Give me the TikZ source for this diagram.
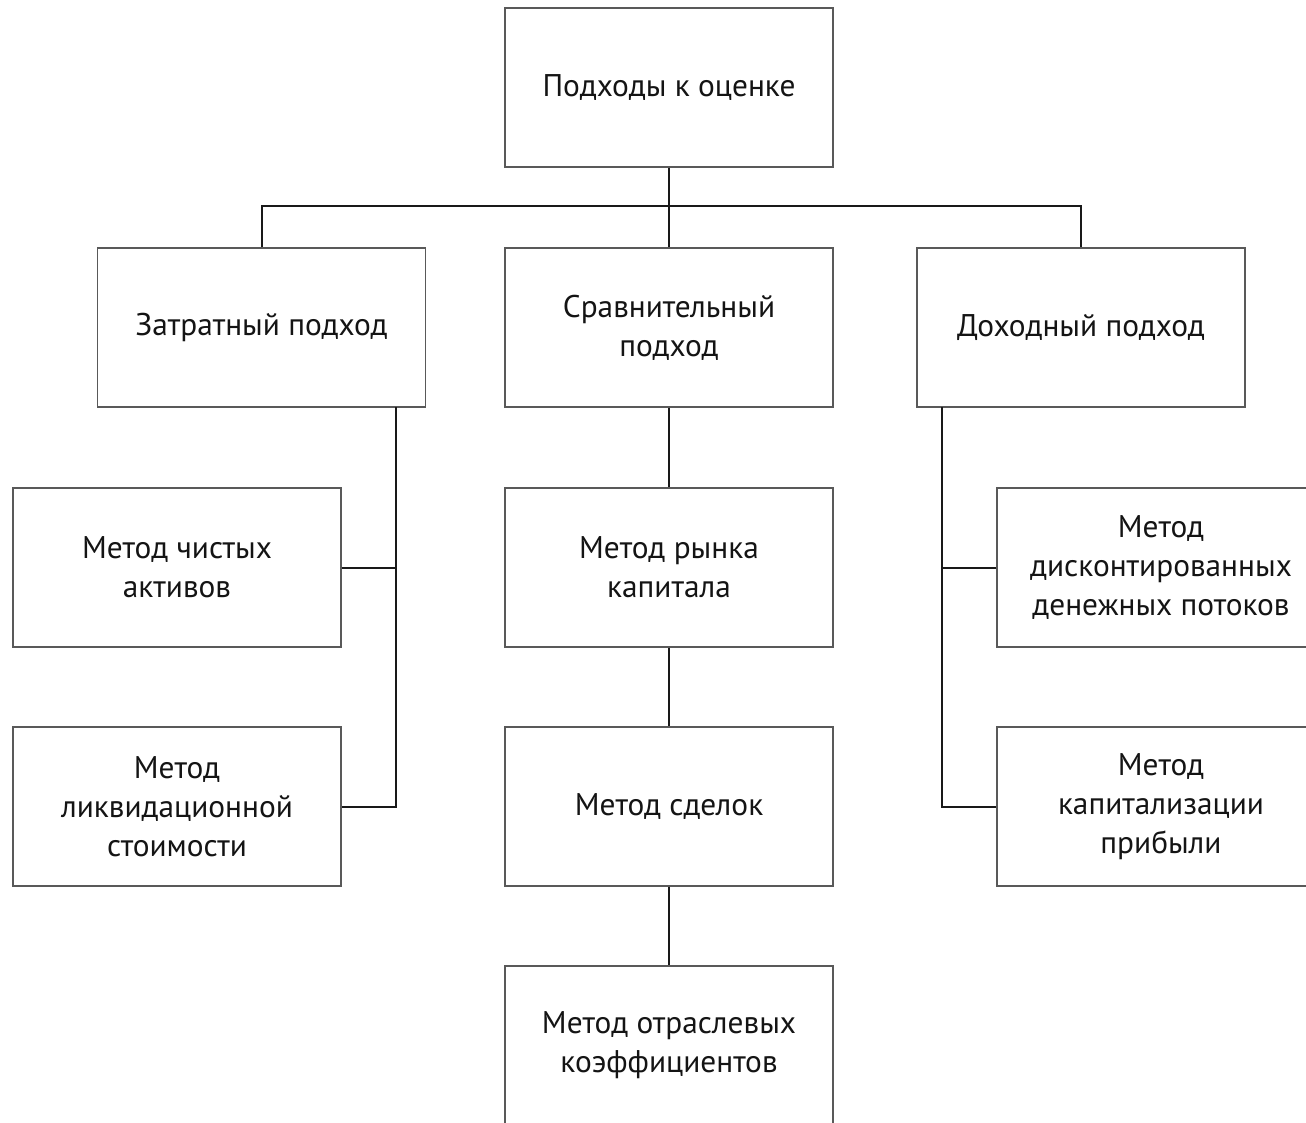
\documentclass[tikz,border=0pt]{standalone}
\usepackage{fontspec}
\setmainfont{PT Sans}
\begin{document}
\begin{tikzpicture}[x=0.75pt,y=-0.75pt,
  box/.style={draw=black!65, line width=1.1pt, rectangle, minimum width=246pt, minimum height=119.25pt,
    inner sep=0pt, align=center, text=black!92, font=\fontsize{23.5}{29.25}\selectfont},
  conn/.style={draw=black!90, line width=1.5pt}]
\useasboundingbox (0,0) rectangle (1306,1123);
\clip (0,0) rectangle (1306,1123);
\fill[white] (0,0) rectangle (1306,1123);
\node[box] (top)   at (669,87.5)   {Подходы к оценке};
\node[box] (zat)   at (261.5,327.5) {Затратный подход};
\node[box] (srav)  at (669,327.5)  {Сравнительный\\подход};
\node[box] (doh)   at (1081,327.5) {Доходный подход};
\node[box] (chist) at (177,567.5)  {Метод чистых\\активов};
\node[box] (likv)  at (177,806.5)  {Метод\\ликвидационной\\стоимости};
\node[box] (rynok) at (669,567.5)  {Метод рынка\\капитала};
\node[box] (sdel)  at (669,806.5)  {Метод сделок};
\node[box] (otr)   at (669,1045.5) {Метод отраслевых\\коэффициентов};
\node[box] (disk)  at (1161,567.5) {Метод\\дисконтированных\\денежных потоков};
\node[box] (kap)   at (1161,806.5) {Метод\\капитализации\\прибыли};
\coordinate (bus) at (669,206);
\coordinate (zl) at (396,407);
\coordinate (dl) at (942,407);
\draw[conn] (top.south) -- (srav.north);
\draw[conn] (zat.north) |- (bus) -| (doh.north);
\draw[conn] (zl) |- (likv.east);
\draw[conn] (chist.east) -- (chist.east -| zl);
\draw[conn] (dl) |- (kap.west);
\draw[conn] (disk.west) -- (disk.west -| dl);
\draw[conn] (srav.south) -- (rynok.north);
\draw[conn] (rynok.south) -- (sdel.north);
\draw[conn] (sdel.south) -- (otr.north);
\end{tikzpicture}
\end{document}
